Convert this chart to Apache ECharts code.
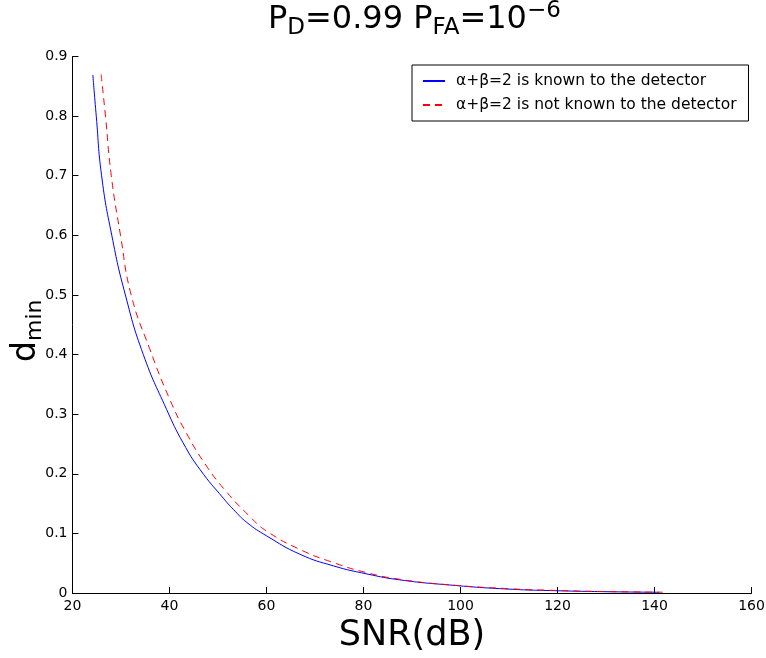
<!DOCTYPE html>
<html>
<head>
<meta charset="utf-8">
<script src="https://cdn.jsdelivr.net/npm/echarts@6/dist/echarts.min.js"></script>
<style>
html,body{margin:0;padding:0;background:#fff;}
#chart{width:766px;height:658px;}
</style>
</head>
<body>
<div id="chart"></div>
<script>
// SNR (dB) and d_min values
var snrKnown  = [24.2, 24.9, 26.0, 28.1, 30.9, 34.6, 39.4, 42.8, 46.3, 51.1, 53.2, 56.0, 60.0, 66.9, 73.8, 80.7, 87.5, 97.8, 110, 120, 130, 141];
var dminKnown = [0.869, 0.80, 0.70, 0.60, 0.50, 0.40, 0.308, 0.252, 0.207, 0.159, 0.140, 0.118, 0.096, 0.065, 0.0455, 0.032, 0.022, 0.0134, 0.0065, 0.0038, 0.0022, 0.0012];
var snrUnknown  = [25.9, 26.8, 28.0, 29.9, 32.1, 35.9, 40.1, 43.5, 47.3, 51.4, 56.6, 60.0, 66.9, 73.8, 80.7, 87.5, 96.4, 110, 120, 130, 141.7];
var dminUnknown = [0.87, 0.80, 0.70, 0.60, 0.50, 0.41, 0.324, 0.268, 0.217, 0.173, 0.128, 0.104, 0.073, 0.051, 0.034, 0.023, 0.0146, 0.0072, 0.0042, 0.0024, 0.0013];
var seriesNames = ['\u03b1+\u03b2=2 is known to the detector', '\u03b1+\u03b2=2 is not known to the detector'];
var xMin = 20, xMax = 160, xStep = 20;
var yMin = 0, yMax = 0.9, yStep = 0.1;

function pairs(xs, ys) { return xs.map(function (x, i) { return [x, ys[i]]; }); }

var FONT = 'DejaVu Sans, Liberation Sans, Arial, sans-serif';
var chart = echarts.init(document.getElementById('chart'), null, {renderer: 'canvas'});
chart.setOption({
  backgroundColor: '#fff',
  animation: false,
  title: {
    text: '{m|P}{s|D}{m|=0.99 P}{s|FA}{m|=10}{p|\u22126}',
    left: 268, top: 0, padding: 0,
    textStyle: {
      fontFamily: FONT, color: '#000', fontWeight: 'normal',
      rich: {
        m: {fontFamily: FONT, fontSize: 32, lineHeight: 40, color: '#000'},
        s: {fontFamily: FONT, fontSize: 23, lineHeight: 10, verticalAlign: 'bottom', color: '#000'},
        p: {fontFamily: FONT, fontSize: 23, lineHeight: 30, verticalAlign: 'top', color: '#000'}
      }
    }
  },
  legend: {
    orient: 'vertical',
    left: 412, top: 65,
    padding: [8, 12, 8, 10],
    itemWidth: 22, itemHeight: 14, itemGap: 8,
    borderColor: '#000', borderWidth: 1,
    backgroundColor: '#fff',
    itemStyle: {color: 'rgba(0,0,0,0)', borderWidth: 0, opacity: 0},
    textStyle: {fontFamily: FONT, fontSize: 15.5, color: '#000', padding: [0, 0, 0, 6]},
    data: seriesNames
  },
  grid: {left: 72.5, right: 14.5, top: 56.5, bottom: 65, containLabel: false, outerBoundsMode: 'none'},
  xAxis: {
    type: 'value', min: xMin, max: xMax, interval: xStep,
    name: 'SNR(dB)', nameLocation: 'middle', nameGap: 25, nameMoveOverlap: false,
    nameTextStyle: {fontFamily: FONT, fontSize: 35, color: '#000'},
    axisLine: {show: true, onZero: false, lineStyle: {color: '#000', width: 1}},
    axisTick: {show: true, inside: true, length: 6, lineStyle: {color: '#000'}},
    axisLabel: {fontFamily: FONT, fontSize: 14, color: '#000', margin: 6},
    splitLine: {show: false}
  },
  yAxis: {
    type: 'value', min: yMin, max: yMax, interval: yStep,
    name: '{d|d}{s|min}', nameLocation: 'middle', nameGap: 26, nameRotate: 90, nameMoveOverlap: false,
    nameTextStyle: {
      fontFamily: FONT, color: '#000', padding: [0, 12, 0, 0],
      rich: {
        d: {fontFamily: FONT, fontSize: 33, lineHeight: 40, color: '#000'},
        s: {fontFamily: FONT, fontSize: 22, lineHeight: 13, verticalAlign: 'bottom', color: '#000'}
      }
    },
    axisLine: {show: true, onZero: false, lineStyle: {color: '#000', width: 1}},
    axisTick: {show: true, inside: true, length: 6, lineStyle: {color: '#000'}},
    axisLabel: {fontFamily: FONT, fontSize: 14, color: '#000', margin: 5},
    splitLine: {show: false}
  },
  series: [
    {
      name: seriesNames[0], type: 'line', data: pairs(snrKnown, dminKnown),
      smooth: 0.5, symbol: 'none', showSymbol: false,
      lineStyle: {color: '#0000ff', width: 1, type: 'solid'},
      itemStyle: {color: '#0000ff'}
    },
    {
      name: seriesNames[1], type: 'line', data: pairs(snrUnknown, dminUnknown),
      smooth: 0.5, symbol: 'none', showSymbol: false,
      lineStyle: {color: '#ff0000', width: 1, type: [7, 5]},
      itemStyle: {color: '#ff0000'}
    }
  ]
});
</script>
</body>
</html>
